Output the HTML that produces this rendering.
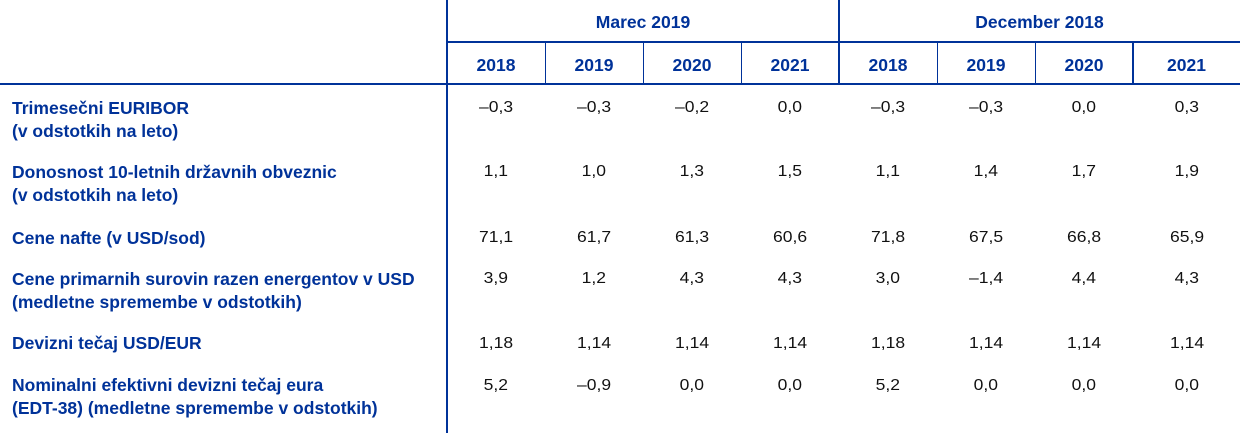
<!DOCTYPE html>
<html>
<head>
<meta charset="utf-8">
<style>
  html, body { margin:0; padding:0; background:#fff; }
  body { width:1240px; height:433px; position:relative; overflow:hidden;
         font-family:"Liberation Sans", Arial, sans-serif; }
  .ln { position:absolute; background:#003299; }
  .lab { position:absolute; left:12px; color:#003299; font-weight:bold;
         font-size:17.5px; line-height:23px; white-space:nowrap; }
  .hd { position:absolute; color:#003299; font-weight:bold; font-size:17.5px;
        line-height:20px; text-align:center; white-space:nowrap; }
  .n { position:absolute; width:98px; text-align:center; font-size:15.5px;
       line-height:20px; color:#111; white-space:nowrap; }
  .n span { display:inline-block; transform:scaleX(1.13); }
</style>
</head>
<body>
<!-- lines -->
<div class="ln" style="left:446px;top:0;width:2px;height:433px;"></div>
<div class="ln" style="left:447px;top:41px;width:793px;height:2px;"></div>
<div class="ln" style="left:0;top:83px;width:1240px;height:2px;"></div>
<div class="ln" style="left:838px;top:0;width:2px;height:84px;"></div>
<div class="ln" style="left:544.5px;top:42px;width:1.5px;height:42px;"></div>
<div class="ln" style="left:642.5px;top:42px;width:1.5px;height:42px;"></div>
<div class="ln" style="left:740.5px;top:42px;width:1.5px;height:42px;"></div>
<div class="ln" style="left:936.5px;top:42px;width:1.5px;height:42px;"></div>
<div class="ln" style="left:1034.5px;top:42px;width:1.5px;height:42px;"></div>
<div class="ln" style="left:1132px;top:42px;width:1.5px;height:42px;"></div>

<!-- headers -->
<div class="hd" style="left:447px;width:392px;top:12px;">Marec 2019</div>
<div class="hd" style="left:839px;width:401px;top:12px;">December 2018</div>

<div class="hd" style="left:447px;width:98px;top:55px;">2018</div>
<div class="hd" style="left:545px;width:98px;top:55px;">2019</div>
<div class="hd" style="left:643px;width:98px;top:55px;">2020</div>
<div class="hd" style="left:741px;width:98px;top:55px;">2021</div>
<div class="hd" style="left:839px;width:98px;top:55px;">2018</div>
<div class="hd" style="left:937px;width:98px;top:55px;">2019</div>
<div class="hd" style="left:1035px;width:98px;top:55px;">2020</div>
<div class="hd" style="left:1133px;width:107px;top:55px;">2021</div>

<!-- labels -->
<div class="lab" style="top:97px;">Trimesečni EURIBOR<br>(v odstotkih na leto)</div>
<div class="lab" style="top:161px;">Donosnost 10-letnih državnih obveznic<br>(v odstotkih na leto)</div>
<div class="lab" style="top:227px;">Cene nafte (v USD/sod)</div>
<div class="lab" style="top:268px;">Cene primarnih surovin razen energentov v USD<br>(medletne spremembe v odstotkih)</div>
<div class="lab" style="top:332px;">Devizni tečaj USD/EUR</div>
<div class="lab" style="top:374px;">Nominalni efektivni devizni tečaj eura<br>(EDT-38) (medletne spremembe v odstotkih)</div>

<!-- row 1 -->
<div class="n" style="left:447px;top:98px;"><span>–0,3</span></div>
<div class="n" style="left:545px;top:98px;"><span>–0,3</span></div>
<div class="n" style="left:643px;top:98px;"><span>–0,2</span></div>
<div class="n" style="left:741px;top:98px;"><span>0,0</span></div>
<div class="n" style="left:839px;top:98px;"><span>–0,3</span></div>
<div class="n" style="left:937px;top:98px;"><span>–0,3</span></div>
<div class="n" style="left:1035px;top:98px;"><span>0,0</span></div>
<div class="n" style="left:1138px;top:98px;"><span>0,3</span></div>
<!-- row 2 -->
<div class="n" style="left:447px;top:162px;"><span>1,1</span></div>
<div class="n" style="left:545px;top:162px;"><span>1,0</span></div>
<div class="n" style="left:643px;top:162px;"><span>1,3</span></div>
<div class="n" style="left:741px;top:162px;"><span>1,5</span></div>
<div class="n" style="left:839px;top:162px;"><span>1,1</span></div>
<div class="n" style="left:937px;top:162px;"><span>1,4</span></div>
<div class="n" style="left:1035px;top:162px;"><span>1,7</span></div>
<div class="n" style="left:1138px;top:162px;"><span>1,9</span></div>
<!-- row 3 -->
<div class="n" style="left:447px;top:228px;"><span>71,1</span></div>
<div class="n" style="left:545px;top:228px;"><span>61,7</span></div>
<div class="n" style="left:643px;top:228px;"><span>61,3</span></div>
<div class="n" style="left:741px;top:228px;"><span>60,6</span></div>
<div class="n" style="left:839px;top:228px;"><span>71,8</span></div>
<div class="n" style="left:937px;top:228px;"><span>67,5</span></div>
<div class="n" style="left:1035px;top:228px;"><span>66,8</span></div>
<div class="n" style="left:1138px;top:228px;"><span>65,9</span></div>
<!-- row 4 -->
<div class="n" style="left:447px;top:269px;"><span>3,9</span></div>
<div class="n" style="left:545px;top:269px;"><span>1,2</span></div>
<div class="n" style="left:643px;top:269px;"><span>4,3</span></div>
<div class="n" style="left:741px;top:269px;"><span>4,3</span></div>
<div class="n" style="left:839px;top:269px;"><span>3,0</span></div>
<div class="n" style="left:937px;top:269px;"><span>–1,4</span></div>
<div class="n" style="left:1035px;top:269px;"><span>4,4</span></div>
<div class="n" style="left:1138px;top:269px;"><span>4,3</span></div>
<!-- row 5 -->
<div class="n" style="left:447px;top:334px;"><span>1,18</span></div>
<div class="n" style="left:545px;top:334px;"><span>1,14</span></div>
<div class="n" style="left:643px;top:334px;"><span>1,14</span></div>
<div class="n" style="left:741px;top:334px;"><span>1,14</span></div>
<div class="n" style="left:839px;top:334px;"><span>1,18</span></div>
<div class="n" style="left:937px;top:334px;"><span>1,14</span></div>
<div class="n" style="left:1035px;top:334px;"><span>1,14</span></div>
<div class="n" style="left:1138px;top:334px;"><span>1,14</span></div>
<!-- row 6 -->
<div class="n" style="left:447px;top:376px;"><span>5,2</span></div>
<div class="n" style="left:545px;top:376px;"><span>–0,9</span></div>
<div class="n" style="left:643px;top:376px;"><span>0,0</span></div>
<div class="n" style="left:741px;top:376px;"><span>0,0</span></div>
<div class="n" style="left:839px;top:376px;"><span>5,2</span></div>
<div class="n" style="left:937px;top:376px;"><span>0,0</span></div>
<div class="n" style="left:1035px;top:376px;"><span>0,0</span></div>
<div class="n" style="left:1138px;top:376px;"><span>0,0</span></div>
</body>
</html>
